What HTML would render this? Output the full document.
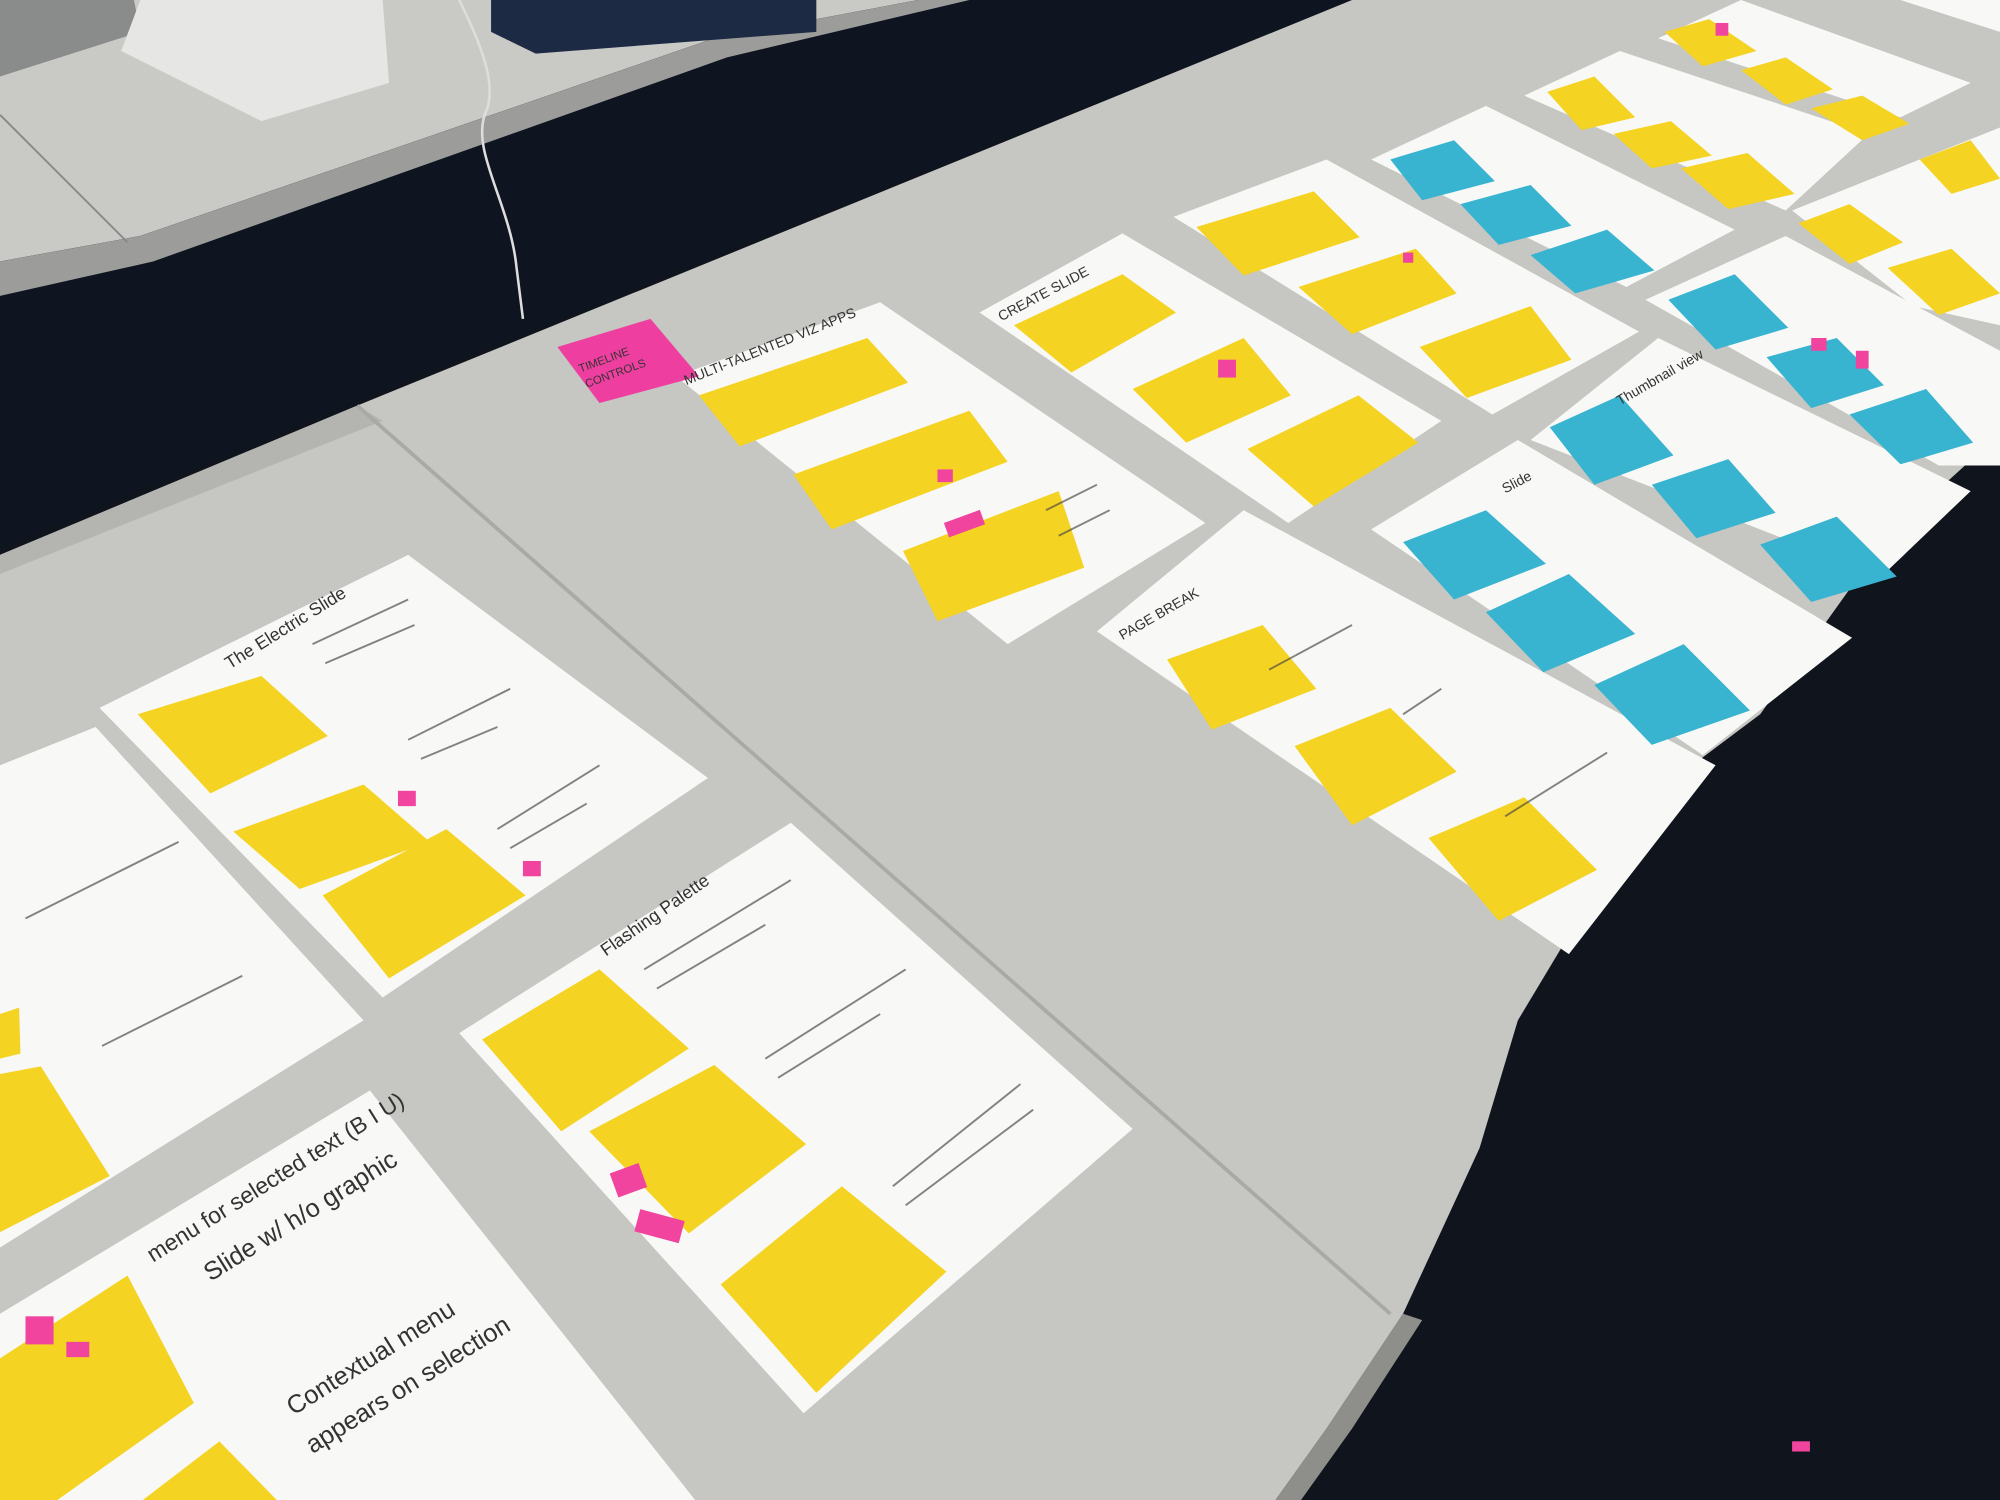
<!DOCTYPE html>
<html><head><meta charset="utf-8"><style>
html,body{margin:0;padding:0;background:#11151d;}
svg{display:block}
text{font-family:"Liberation Sans",sans-serif;fill:#333;}
</style></head><body>
<svg width="2000" height="1500" viewBox="0 0 1568 1176" preserveAspectRatio="none" xmlns="http://www.w3.org/2000/svg">
<rect width="1568" height="1176" fill="#10141c"/>
<!-- top-left desk -->
<polygon points="0,0 720,0 560,30 110,185 0,205" fill="#c9c9c6"/>
<polygon points="0,205 110,185 560,30 720,0 1060,0 290,310 0,430" fill="#0e1520"/>
<polygon points="0,205 110,185 560,30 720,0 760,0 570,45 120,205 0,232" fill="#9c9d9b"/>
<line x1="0" y1="90" x2="100" y2="190" stroke="#888" stroke-width="1.5"/>
<polygon points="0,0 105,0 110,25 0,60" fill="#8a8c8c"/>
<polygon points="110,0 300,0 305,65 205,95 95,40" fill="#e6e6e4"/>
<polygon points="385,0 640,0 640,25 420,42 385,25" fill="#1d2a44"/>
<path d="M360,0 C380,40 390,70 380,90 C370,120 400,160 405,210 L410,250" stroke="#ddd" stroke-width="2" fill="none"/>
<!-- table -->
<polygon points="0,435 280,318 1060,0 1568,0 1568,340 1480,420 1380,560 1300,620 1250,700 1190,800 1160,900 1100,1030 1040,1120 1000,1176 0,1176" fill="#c6c6c2"/>
<polygon points="0,435 280,318 300,330 0,450" fill="#b4b4b0"/>
<line x1="280" y1="318" x2="1090" y2="1030" stroke="#a9a9a5" stroke-width="3"/>
<polygon points="1100,1030 1040,1120 1000,1176 1020,1176 1060,1120 1115,1035" fill="#8e8e8a"/>

<!-- papers -->
<g fill="#f8f8f6">
<polygon points="530,295 690,237 945,410 790,505"/>
<polygon points="768,245 880,183 1130,330 1010,410"/>
<polygon points="920,170 1040,125 1285,260 1170,325"/>
<polygon points="1075,125 1165,83 1360,180 1275,225"/>
<polygon points="1195,75 1270,40 1465,105 1400,165"/>
<polygon points="1300,30 1365,0 1545,65 1490,92"/>
<polygon points="1405,165 1568,100 1568,255 1500,240"/>
<polygon points="1290,235 1400,185 1568,275 1568,365 1520,365"/>
<polygon points="1200,345 1300,265 1545,385 1475,452"/>
<polygon points="1075,415 1190,345 1452,500 1335,592"/>
<polygon points="860,495 975,400 1345,600 1230,748"/>
<polygon points="78,555 320,435 555,610 300,782"/>
<polygon points="0,600 75,570 285,800 0,978"/>
<polygon points="360,810 620,645 888,885 630,1108"/>
<polygon points="0,1030 290,855 545,1176 0,1176"/>
<polygon points="1490,0 1568,0 1568,25"/>
</g>
<!-- pink note -->
<polygon points="437,272 510,250 548,295 470,316" fill="#ee3fa0"/>
<text x="0" y="0" transform="translate(455,292) rotate(-20)" font-size="9">TIMELINE</text>
<text x="0" y="0" transform="translate(460,304) rotate(-20)" font-size="9">CONTROLS</text>

<!-- yellow stickies -->
<g fill="#f5d322">
<polygon points="548,310 680,265 712,300 580,350"/>
<polygon points="622,372 760,322 790,362 652,415"/>
<polygon points="708,432 830,385 850,445 735,487"/>
<polygon points="795,255 880,215 922,245 840,292"/>
<polygon points="888,305 975,265 1012,310 930,347"/>
<polygon points="978,352 1065,310 1112,347 1030,397"/>
<polygon points="938,178 1030,150 1066,186 975,216"/>
<polygon points="1018,225 1110,195 1142,230 1060,262"/>
<polygon points="1113,272 1200,240 1232,282 1150,312"/>
<polygon points="1213,72 1250,60 1282,92 1240,102"/>
<polygon points="1265,105 1310,95 1342,122 1295,132"/>
<polygon points="1318,132 1370,120 1407,152 1355,164"/>
<polygon points="1305,25 1340,15 1377,40 1335,52"/>
<polygon points="1365,55 1400,45 1437,70 1400,82"/>
<polygon points="1420,85 1460,75 1497,97 1460,110"/>
<polygon points="1410,175 1450,160 1492,190 1450,207"/>
<polygon points="1480,210 1530,195 1568,230 1520,247"/>
<polygon points="1505,125 1545,110 1568,140 1530,152"/>
<polygon points="915,517 990,490 1032,540 950,572"/>
<polygon points="1015,585 1090,555 1142,605 1060,647"/>
<polygon points="1120,657 1195,625 1252,682 1175,722"/>
<polygon points="108,560 205,530 257,577 165,622"/>
<polygon points="183,652 285,615 337,660 235,697"/>
<polygon points="253,702 350,650 412,702 305,767"/>
<polygon points="378,815 470,760 540,822 440,887"/>
<polygon points="462,887 560,835 632,897 540,967"/>
<polygon points="565,1007 660,930 742,997 640,1092"/>
<polygon points="0,795 15,790 16,826 0,830"/>
<polygon points="0,842 32,836 86,922 0,966"/>
<polygon points="0,1065 100,1000 152,1100 45,1176 0,1176"/>
<polygon points="112,1176 172,1130 217,1176"/>
</g>
<!-- blue stickies -->
<g fill="#38b4d0">
<polygon points="1090,125 1140,110 1172,142 1115,157"/>
<polygon points="1145,160 1200,145 1232,177 1175,192"/>
<polygon points="1200,200 1260,180 1297,212 1235,230"/>
<polygon points="1308,235 1360,215 1402,257 1345,274"/>
<polygon points="1385,280 1440,265 1477,302 1420,320"/>
<polygon points="1450,325 1510,305 1547,347 1490,364"/>
<polygon points="1215,335 1270,310 1312,357 1250,380"/>
<polygon points="1295,380 1355,360 1392,402 1330,422"/>
<polygon points="1380,427 1440,405 1487,452 1420,472"/>
<polygon points="1100,425 1165,400 1212,442 1140,470"/>
<polygon points="1165,480 1230,450 1282,497 1210,527"/>
<polygon points="1250,537 1320,505 1372,557 1295,584"/>
</g>
<!-- small pink flags -->
<g fill="#f0449e">
<rect x="740" y="410" width="30" height="12" transform="rotate(-20 740 410)"/>
<rect x="735" y="368" width="12" height="10"/>
<rect x="955" y="282" width="14" height="14"/>
<rect x="1100" y="198" width="8" height="8"/>
<rect x="312" y="620" width="14" height="12"/>
<rect x="410" y="675" width="14" height="12"/>
<rect x="478" y="920" width="24" height="20" transform="rotate(-20 478 920)"/>
<rect x="502" y="948" width="36" height="18" transform="rotate(15 502 948)"/>
<rect x="20" y="1032" width="22" height="22"/>
<rect x="52" y="1052" width="18" height="12"/>
<rect x="1420" y="265" width="12" height="10"/>
<rect x="1455" y="275" width="10" height="14"/>
<rect x="1405" y="1130" width="14" height="8"/>
<rect x="1345" y="18" width="10" height="10"/>
</g>
<!-- handwritten text -->
<g font-size="11" fill="#333">
<text transform="translate(538,302) rotate(-22)">MULTI-TALENTED VIZ APPS</text>
<text transform="translate(785,252) rotate(-28)">CREATE SLIDE</text>
<text transform="translate(880,502) rotate(-30)">PAGE BREAK</text>
<text transform="translate(1180,387) rotate(-28)">Slide</text>
<text transform="translate(1270,318) rotate(-30)">Thumbnail view</text>
<text font-size="14" transform="translate(180,525) rotate(-32)">The Electric Slide</text>
<text font-size="14" transform="translate(475,750) rotate(-35)">Flashing Palette</text>
<text font-size="20" fill="#4a3a6a" transform="translate(165,1005) rotate(-32)">Slide w/ h/o graphic</text>
<text font-size="20" fill="#4a3a6a" transform="translate(230,1110) rotate(-32)">Contextual menu</text>
<text font-size="20" fill="#4a3a6a" transform="translate(245,1140) rotate(-32)">appears on selection</text>
<text font-size="18" fill="#4a3a6a" transform="translate(120,990) rotate(-32)">menu for selected text (B I U)</text>
</g>
<!-- faux handwriting lines -->
<g stroke="#444" stroke-width="1.5" opacity="0.65">
<line x1="245" y1="505" x2="320" y2="470"/><line x1="255" y1="520" x2="325" y2="490"/>
<line x1="320" y1="580" x2="400" y2="540"/><line x1="330" y1="595" x2="390" y2="570"/>
<line x1="390" y1="650" x2="470" y2="600"/><line x1="400" y1="665" x2="460" y2="630"/>
<line x1="505" y1="760" x2="620" y2="690"/><line x1="515" y1="775" x2="600" y2="725"/>
<line x1="600" y1="830" x2="710" y2="760"/><line x1="610" y1="845" x2="690" y2="795"/>
<line x1="700" y1="930" x2="800" y2="850"/><line x1="710" y1="945" x2="810" y2="870"/>
<line x1="20" y1="720" x2="140" y2="660"/><line x1="80" y1="820" x2="190" y2="765"/>
<line x1="820" y1="400" x2="860" y2="380"/><line x1="830" y1="420" x2="870" y2="400"/>
<line x1="995" y1="525" x2="1060" y2="490"/><line x1="1100" y1="560" x2="1130" y2="540"/>
<line x1="1180" y1="640" x2="1260" y2="590"/>
</g>
</svg>
</body></html>
